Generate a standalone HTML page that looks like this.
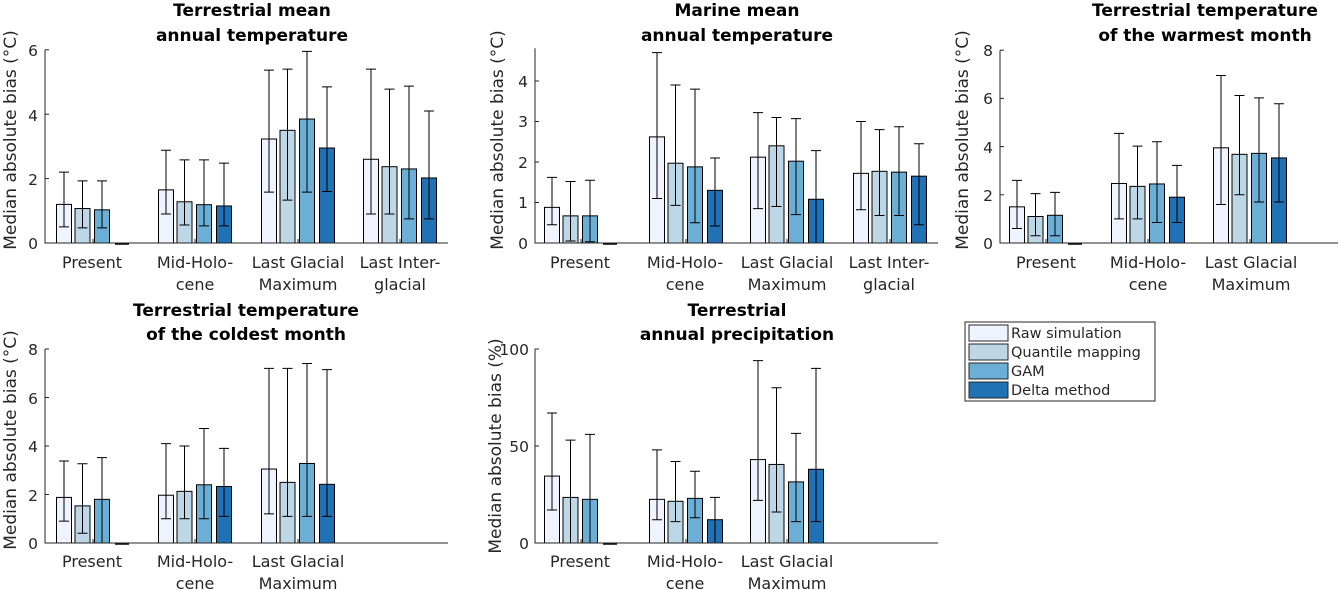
<!DOCTYPE html>
<html><head><meta charset="utf-8"><style>
html,body{margin:0;padding:0;background:#fff}
svg{display:block;font-family:"DejaVu Sans","Liberation Sans",sans-serif;fill:#262626}
.t{font-weight:bold;font-size:17px;text-anchor:middle;fill:#000}
.tk{font-size:15.5px;text-anchor:end}
.xl{font-size:16px;text-anchor:middle}
.yl{font-size:17px;text-anchor:middle}
.lg{font-size:14.5px}
</style></head><body>
<svg id="s" width="1340" height="590" viewBox="0 0 1340 590" xmlns="http://www.w3.org/2000/svg">
<g id="bars"></g>
<text class="t" x="252" y="16">Terrestrial mean</text><text class="t" x="252" y="41">annual temperature</text>
<text class="t" x="737" y="16">Marine mean</text><text class="t" x="737" y="41">annual temperature</text>
<text class="t" x="1205" y="16">Terrestrial temperature</text><text class="t" x="1205" y="41">of the warmest month</text>
<text class="t" x="246" y="316">Terrestrial temperature</text><text class="t" x="246" y="340">of the coldest month</text>
<text class="t" x="737" y="316">Terrestrial</text><text class="t" x="737" y="340">annual precipitation</text>
<text class="yl" transform="translate(16,140) rotate(-90)">Median absolute bias (°C)</text>
<text class="yl" transform="translate(503,140) rotate(-90)">Median absolute bias (°C)</text>
<text class="yl" transform="translate(968,140) rotate(-90)">Median absolute bias (°C)</text>
<text class="yl" transform="translate(16,440) rotate(-90)">Median absolute bias (°C)</text>
<text class="yl" transform="translate(501,446) rotate(-90)">Median absolute bias (%)</text>
<text class="tk" x="38" y="249">0</text><text class="tk" x="38" y="185">2</text><text class="tk" x="38" y="121">4</text><text class="tk" x="38" y="56">6</text>
<text class="tk" x="528" y="249">0</text><text class="tk" x="528" y="208">1</text><text class="tk" x="528" y="168">2</text><text class="tk" x="528" y="127">3</text><text class="tk" x="528" y="87">4</text>
<text class="tk" x="993" y="249">0</text><text class="tk" x="993" y="201">2</text><text class="tk" x="993" y="153">4</text><text class="tk" x="993" y="104">6</text><text class="tk" x="993" y="56">8</text>
<text class="tk" x="38" y="549">0</text><text class="tk" x="38" y="501">2</text><text class="tk" x="38" y="452">4</text><text class="tk" x="38" y="404">6</text><text class="tk" x="38" y="355">8</text>
<text class="tk" x="529" y="549">0</text><text class="tk" x="529" y="452">50</text><text class="tk" x="529" y="355">100</text>
<text class="xl" x="92" y="268">Present</text>
<text class="xl" x="195" y="268">Mid-Holo-</text><text class="xl" x="195" y="290">cene</text>
<text class="xl" x="298" y="268">Last Glacial</text><text class="xl" x="298" y="290">Maximum</text>
<text class="xl" x="400" y="268">Last Inter-</text><text class="xl" x="400" y="290">glacial</text>
<text class="xl" x="580" y="268">Present</text>
<text class="xl" x="685" y="268">Mid-Holo-</text><text class="xl" x="685" y="290">cene</text>
<text class="xl" x="787" y="268">Last Glacial</text><text class="xl" x="787" y="290">Maximum</text>
<text class="xl" x="889" y="268">Last Inter-</text><text class="xl" x="889" y="290">glacial</text>
<text class="xl" x="1046" y="268">Present</text>
<text class="xl" x="1148" y="268">Mid-Holo-</text><text class="xl" x="1148" y="290">cene</text>
<text class="xl" x="1251" y="268">Last Glacial</text><text class="xl" x="1251" y="290">Maximum</text>
<text class="xl" x="92" y="567">Present</text>
<text class="xl" x="195" y="567">Mid-Holo-</text><text class="xl" x="195" y="589">cene</text>
<text class="xl" x="298" y="567">Last Glacial</text><text class="xl" x="298" y="589">Maximum</text>
<text class="xl" x="580" y="567">Present</text>
<text class="xl" x="685" y="567">Mid-Holo-</text><text class="xl" x="685" y="589">cene</text>
<text class="xl" x="787" y="567">Last Glacial</text><text class="xl" x="787" y="589">Maximum</text>
<rect x="965" y="322" width="190" height="79" fill="#fff" stroke="#262626" stroke-width="1"/>
<rect x="969" y="325" width="39" height="16" fill="#eff3ff" stroke="#262626"/>
<rect x="969" y="344" width="39" height="16" fill="#bdd7e7" stroke="#262626"/>
<rect x="969" y="363" width="39" height="16" fill="#6baed6" stroke="#262626"/>
<rect x="969" y="382" width="39" height="16" fill="#2171b5" stroke="#262626"/>
<text class="lg" x="1011" y="338">Raw simulation</text>
<text class="lg" x="1011" y="357">Quantile mapping</text>
<text class="lg" x="1011" y="376">GAM</text>
<text class="lg" x="1011" y="395">Delta method</text>
</svg>
<script>
var C=["#eff3ff","#bdd7e7","#6baed6","#2171b5"],off=[-29,-10.5,9,29];
var P=[
{x0:45,x1:448,y0:243,ys:32.2,ymax:6,ticks:[0,2,4,6],c:[93,195,298,400],d:[
[[1.2,.5,2.2],[1.07,.47,1.93],[1.03,.47,1.93],[0]],
[[1.65,.9,2.88],[1.28,.56,2.58],[1.19,.53,2.58],[1.15,.53,2.48]],
[[3.23,1.58,5.37],[3.5,1.33,5.4],[3.85,1.58,5.95],[2.95,1.6,4.85]],
[[2.6,.9,5.4],[2.37,.9,4.78],[2.3,.75,4.87],[2.02,.75,4.1]]]},
{x0:535,x1:938,y0:243,ys:40.5,ymax:4.81,ticks:[0,1,2,3,4],c:[581,686,787,890],d:[
[[.88,.45,1.62],[.67,.05,1.52],[.67,.03,1.55],[0]],
[[2.62,1.1,4.7],[1.97,.93,3.9],[1.88,.5,3.8],[1.3,.42,2.1]],
[[2.12,.85,3.22],[2.4,.9,3.1],[2.02,.7,3.07],[1.08,0,2.28]],
[[1.72,.82,3],[1.77,.68,2.8],[1.75,.68,2.87],[1.65,.45,2.45]]]},
{x0:1000,x1:1338,y0:243,ys:24.1,ymax:8,ticks:[0,2,4,6,8],c:[1046,1148,1250],d:[
[[1.5,.6,2.6],[1.1,.3,2.05],[1.15,.3,2.1],[0]],
[[2.47,1,4.55],[2.35,1,4.02],[2.45,.85,4.2],[1.9,.85,3.22]],
[[3.95,1.6,6.95],[3.68,2,6.12],[3.72,1.7,6.02],[3.53,1.7,5.78]]]},
{x0:45,x1:448,y0:543,ys:24.25,ymax:8,ticks:[0,2,4,6,8],c:[93,195,298],d:[
[[1.88,.9,3.38],[1.53,.4,3.27],[1.8,0,3.52],[0]],
[[1.97,1,4.1],[2.13,1,4],[2.4,1,4.72],[2.33,1.1,3.9]],
[[3.05,1.2,7.2],[2.5,1.1,7.2],[3.28,1.1,7.4],[2.42,1.1,7.15]]]},
{x0:535,x1:938,y0:543,ys:1.94,ymax:100,ticks:[0,50,100],c:[581,686,787],d:[
[[34.5,17,67],[23.5,0,53],[22.5,0,56],[0]],
[[22.5,12,48],[21.5,11,42],[23,13,37],[12,0,23.5]],
[[43,22,94],[40.5,16,80],[31.5,11,56.5],[38,11,90]]]}];
var s="";
P.forEach(function(p){
 var top=p.y0-p.ymax*p.ys;
 p.d.forEach(function(g,i){g.forEach(function(b,j){
  var cx=p.c[i]+off[j],h=b[0]*p.ys;
  if(b[0]==0){s+='<line x1="'+(cx-7)+'" x2="'+(cx+7)+'" y1="'+(p.y0+1)+'" y2="'+(p.y0+1)+'" stroke="#000" stroke-width="1.5"/>';return;}
  s+='<rect x="'+(cx-7.5)+'" y="'+(p.y0-h)+'" width="15" height="'+h+'" fill="'+C[j]+'" stroke="#000" stroke-width="1"/>';
  var a=p.y0-b[1]*p.ys,t=p.y0-b[2]*p.ys;
  s+='<path d="M'+cx+' '+a+'V'+t+'M'+(cx-5)+' '+a+'H'+(cx+5)+'M'+(cx-5)+' '+t+'H'+(cx+5)+'" stroke="#000" stroke-width="1" fill="none"/>';
 });});
 s+='<path d="M'+p.x0+' '+top+'V'+p.y0+'H'+p.x1+'" stroke="#262626" stroke-width="1" fill="none"/>';
 p.ticks.forEach(function(t){var y=p.y0-t*p.ys;s+='<line x1="'+p.x0+'" x2="'+(p.x0+4)+'" y1="'+y+'" y2="'+y+'" stroke="#262626"/>';});
 p.c.forEach(function(c){s+='<line x1="'+c+'" x2="'+c+'" y1="'+p.y0+'" y2="'+(p.y0-4)+'" stroke="#262626"/>';});
});
document.getElementById("bars").innerHTML=s;
</script>
</body></html>
